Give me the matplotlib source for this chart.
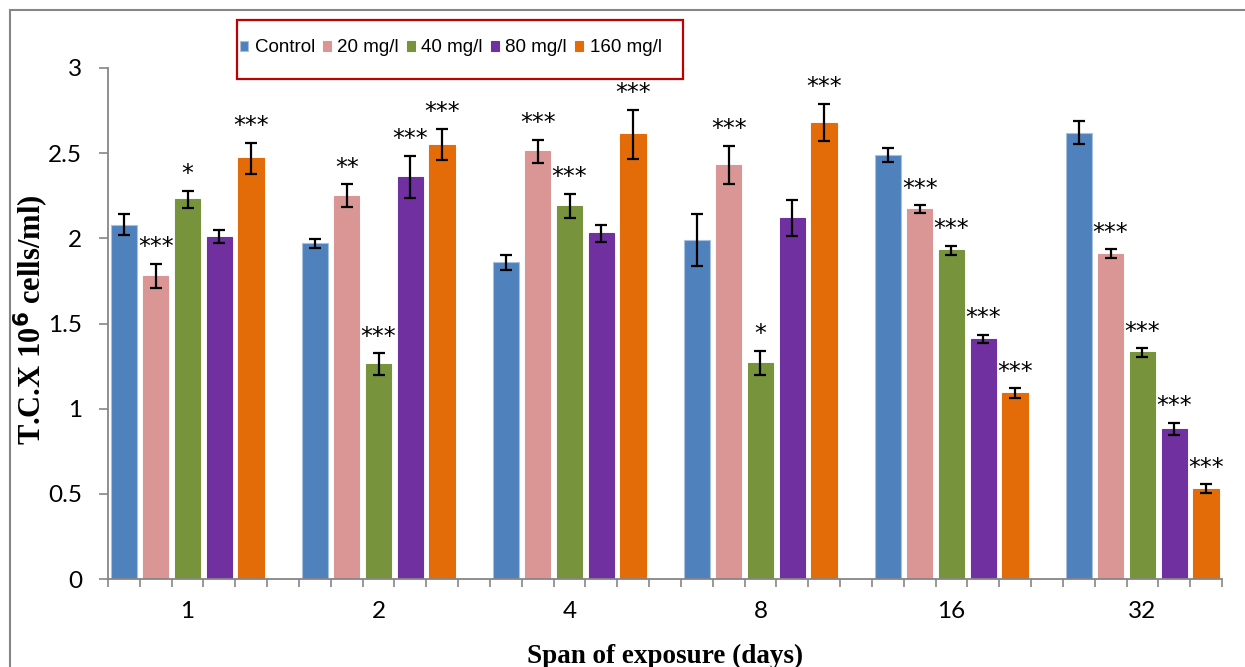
import numpy as np
import matplotlib.pyplot as plt
from matplotlib.patches import Rectangle

# exposure days and treatment groups
days = ['1', '2', '4', '8', '16', '32']
groups = ['Control', '20 mg/l', '40 mg/l', '80 mg/l', '160 mg/l']
colors = ['#4F81BD', '#D99694', '#77933C', '#7030A0', '#E36C09']

# T.C. counts (x10^6 cells/ml)
control = [2.08, 1.97, 1.86, 1.99, 2.49, 2.62]
mg20 = [1.78, 2.25, 2.51, 2.43, 2.17, 1.91]
mg40 = [2.23, 1.26, 2.19, 1.27, 1.93, 1.33]
mg80 = [2.01, 2.36, 2.03, 2.12, 1.41, 0.88]
mg160 = [2.47, 2.55, 2.61, 2.68, 1.09, 0.53]

# error bars
control_err = [0.06, 0.026, 0.045, 0.15, 0.042, 0.067]
mg20_err = [0.07, 0.068, 0.067, 0.113, 0.024, 0.025]
mg40_err = [0.05, 0.065, 0.07, 0.07, 0.027, 0.025]
mg80_err = [0.04, 0.124, 0.051, 0.107, 0.025, 0.035]
mg160_err = [0.09, 0.091, 0.143, 0.11, 0.03, 0.025]

# significance marks
control_sig = ['', '', '', '', '', '']
mg20_sig = ['***', '**', '***', '***', '***', '***']
mg40_sig = ['*', '***', '***', '*', '***', '***']
mg80_sig = ['', '***', '', '', '***', '***']
mg160_sig = ['***', '***', '***', '***', '***', '***']

series = [control, mg20, mg40, mg80, mg160]
errors = [control_err, mg20_err, mg40_err, mg80_err, mg160_err]
marks = [control_sig, mg20_sig, mg40_sig, mg80_sig, mg160_sig]

fig = plt.figure(figsize=(12.45, 6.67), dpi=100)
ax = fig.add_axes([108 / 1245, 1 - 579 / 667, 1114 / 1245, 511 / 667])

# each day gets 6 slots: 5 bars + 1 empty
n_slots = 6
grey = '#868686'
for i, (vals, err, sig) in enumerate(zip(series, errors, marks)):
    x = np.arange(len(days)) * n_slots + i + 0.5
    ax.bar(x, vals, width=0.8, color=colors[i], label=groups[i],
           edgecolor='#A7C0DE' if i == 0 else colors[i], linewidth=0.8, zorder=2)
    ax.errorbar(x, vals, yerr=err, fmt='none', ecolor='black', elinewidth=1.6,
                capsize=4, capthick=1.6, zorder=3)
    for xi, v, e, s in zip(x, vals, err, sig):
        if s:
            ax.annotate(s, (xi, v + e), xytext=(0, 12), textcoords='offset points',
                        ha='center', va='center', fontsize=17, family='DejaVu Sans')

ax.set_xlim(0, n_slots * len(days) - 1)
ax.set_ylim(0, 3)
ax.set_yticks(np.arange(0, 3.01, 0.5))
ax.set_yticklabels(['0', '0.5', '1', '1.5', '2', '2.5', '3'])
ax.set_xticks(np.arange(len(days)) * n_slots + 2.5)
ax.set_xticklabels(days)
ax.set_xticks(np.arange(0, n_slots * len(days)), minor=True)
ax.tick_params(axis='x', which='major', length=0, pad=16)
ax.tick_params(axis='x', which='minor', length=6, width=1.2, color=grey)
ax.tick_params(axis='y', length=6.5, width=1.2, color=grey, pad=12)
for lab in ax.get_xticklabels() + ax.get_yticklabels():
    lab.set_family('Lato')
    lab.set_fontsize(17.5)

for side in ['top', 'right']:
    ax.spines[side].set_visible(False)
for side in ['left', 'bottom']:
    ax.spines[side].set_color(grey)
    ax.spines[side].set_linewidth(1.3)

ax.set_ylabel(r'T.C.X 10$^{\mathbf{6}}$ cells/ml)', family='Liberation Serif',
              fontweight='bold', fontsize=22, va='center')
ax.yaxis.set_label_coords((31 - 108) / 1114, (579 - 320) / 511)
ax.set_xlabel('Span of exposure (days)', family='Liberation Serif',
              fontweight='bold', fontsize=19.5, va='center')
ax.xaxis.set_label_coords(0.5, -(656 - 579) / 511)

leg = fig.legend(loc='center', bbox_to_anchor=(451 / 1245, 1 - 48 / 667), ncol=5,
                 frameon=False, handlelength=0.4, handleheight=0.4,
                 handletextpad=0.35, columnspacing=0.45, borderpad=0,
                 prop={'family': 'Liberation Sans', 'size': 13.5})

# red legend box and grey chart border
fig.patches.append(Rectangle((237 / 1245, 1 - 79 / 667), 446 / 1245, 59 / 667,
                             transform=fig.transFigure, fill=False,
                             edgecolor='#C00000', linewidth=1.6))
fig.patches.append(Rectangle((10 / 1245, -0.1), 1.2, 1.1 - 10 / 667,
                             transform=fig.transFigure, fill=False,
                             edgecolor=grey, linewidth=1.5))

fig.savefig('out.png', dpi=100)
